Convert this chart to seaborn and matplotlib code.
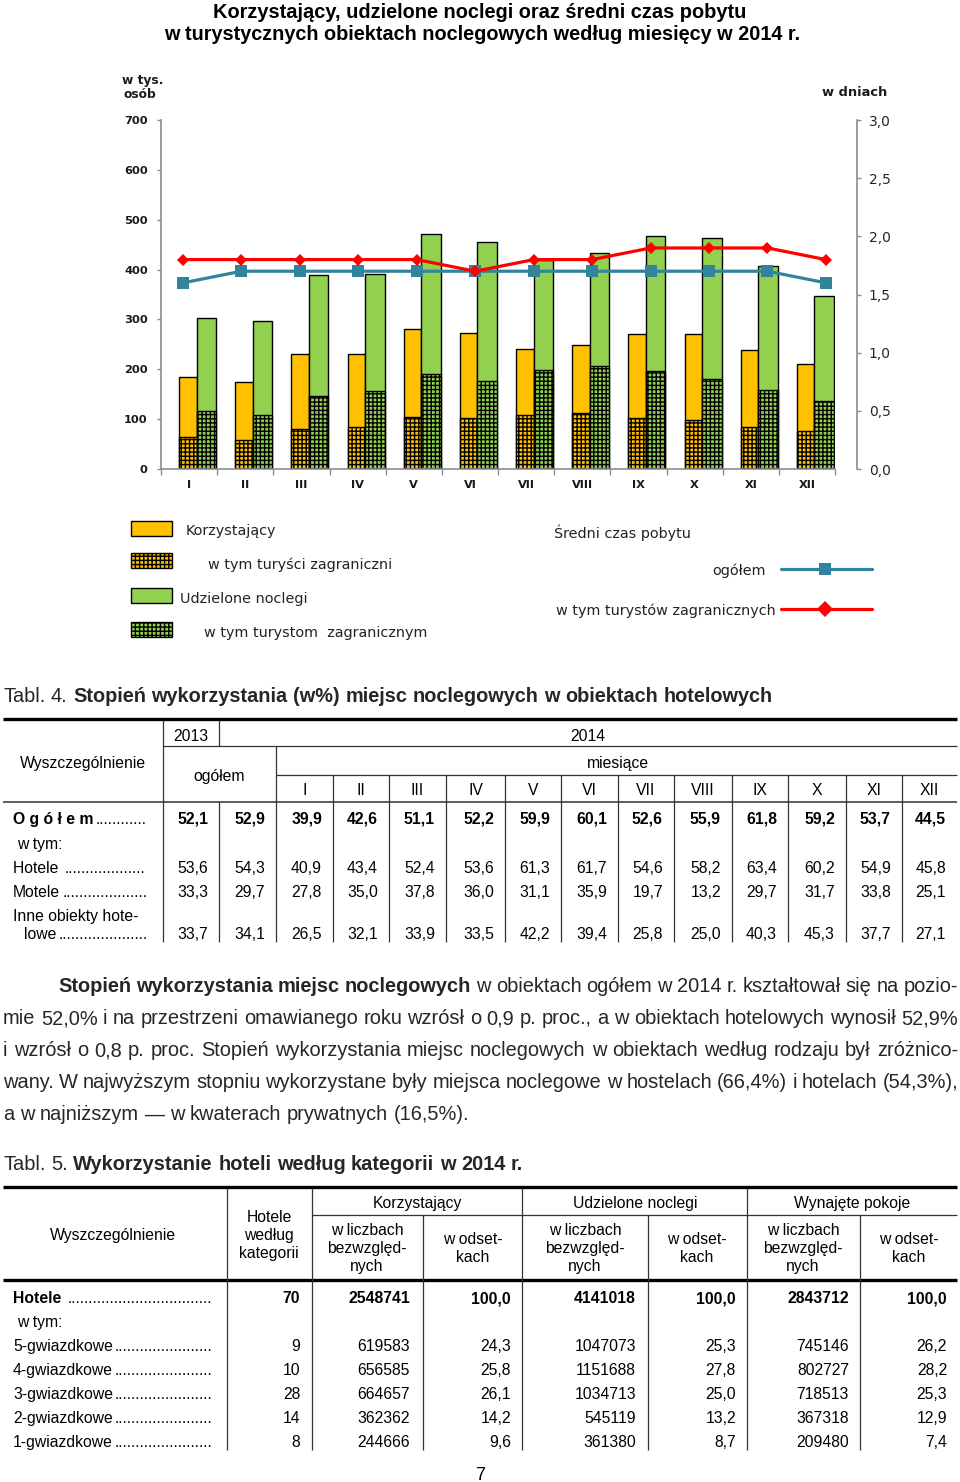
import matplotlib
matplotlib.use('Agg')
import matplotlib.pyplot as plt
import seaborn as sns
import numpy as np
import pandas as pd
from matplotlib.patches import Rectangle

# ---------------- data ----------------
months = ['I', 'II', 'III', 'IV', 'V', 'VI', 'VII', 'VIII', 'IX', 'X', 'XI', 'XII']
korzystajacy = [185, 175, 230, 230, 280, 273, 240, 248, 270, 270, 238, 211]
korz_zagr = [65, 58, 80, 85, 104, 103, 109, 113, 103, 98, 85, 77]
noclegi = [303, 296, 389, 392, 472, 455, 420, 433, 467, 464, 407, 346]
nocl_zagr = [117, 108, 146, 157, 190, 176, 198, 207, 197, 180, 159, 136]
pobyt_ogolem = [1.6, 1.7, 1.7, 1.7, 1.7, 1.7, 1.7, 1.7, 1.7, 1.7, 1.7, 1.6]
pobyt_zagr = [1.8, 1.8, 1.8, 1.8, 1.8, 1.7, 1.8, 1.8, 1.9, 1.9, 1.9, 1.8]
left_ticks = [0, 100, 200, 300, 400, 500, 600, 700]
right_ticks = [0.0, 0.5, 1.0, 1.5, 2.0, 2.5, 3.0]

t4_ogolem = [52.1, 52.9, 39.9, 42.6, 51.1, 52.2, 59.9, 60.1, 52.6, 55.9, 61.8, 59.2, 53.7, 44.5]
t4_hotele = [53.6, 54.3, 40.9, 43.4, 52.4, 53.6, 61.3, 61.7, 54.6, 58.2, 63.4, 60.2, 54.9, 45.8]
t4_motele = [33.3, 29.7, 27.8, 35.0, 37.8, 36.0, 31.1, 35.9, 19.7, 13.2, 29.7, 31.7, 33.8, 25.1]
t4_inne = [33.7, 34.1, 26.5, 32.1, 33.9, 33.5, 42.2, 39.4, 25.8, 25.0, 40.3, 45.3, 37.7, 27.1]

t5_rows = ['5-gwiazdkowe', '4-gwiazdkowe', '3-gwiazdkowe', '2-gwiazdkowe', '1-gwiazdkowe']
t5_hotele = [70, 9, 10, 28, 14, 8]
t5_korz_abs = [2548741, 619583, 656585, 664657, 362362, 244666]
t5_korz_pct = [100.0, 24.3, 25.8, 26.1, 14.2, 9.6]
t5_nocl_abs = [4141018, 1047073, 1151688, 1034713, 545119, 361380]
t5_nocl_pct = [100.0, 25.3, 27.8, 25.0, 13.2, 8.7]
t5_pok_abs = [2843712, 745146, 802727, 718513, 367318, 209480]
t5_pok_pct = [100.0, 26.2, 28.2, 25.3, 12.9, 7.4]

para_lines = [
    [("Stopień", "bold"), ("wykorzystania", "bold"), ("miejsc", "bold"), ("noclegowych", "bold")]
    + [(w, "normal") for w in "w obiektach ogółem w 2014 r. kształtował się na pozio-".split()],
    [(w, "normal") for w in "mie 52,0% i na przestrzeni omawianego roku wzrósł o 0,9 p. proc., a w obiektach hotelowych wynosił 52,9%".split()],
    [(w, "normal") for w in "i wzrósł o 0,8 p. proc. Stopień wykorzystania miejsc noclegowych w obiektach według rodzaju był zróżnico-".split()],
    [(w, "normal") for w in "wany. W najwyższym stopniu wykorzystane były miejsca noclegowe w hostelach (66,4%) i hotelach (54,3%),".split()],
    [(w, "normal") for w in "a w najniższym — w kwaterach prywatnych (16,5%).".split()],
]

# ---------------- style ----------------
sns.set_style('white')
plt.rcParams['font.family'] = ['DejaVu Sans']
plt.rcParams['hatch.linewidth'] = 1.0

YELLOW = '#FFC000'
GREEN = '#92D050'
BLUE = '#31849B'
RED = '#FF0000'
GREY = '#8c8c8c'
ARIAL = 'Liberation Sans'
CH = 'DejaVu Sans'

W, H = 960, 1482
fig = plt.figure(figsize=(9.6, 14.82), dpi=100)
axp = fig.add_axes([0, 0, 1, 1])
axp.set_xlim(0, W)
axp.set_ylim(H, 0)
axp.axis('off')
R = fig.canvas.get_renderer()


def fmt(v):
    return f"{v:.1f}".replace('.', ',')


def txt(x, y, s, size=11, w=None, ha='left', weight='normal', family=ARIAL, color='black'):
    t = axp.text(x, y, s, fontsize=size, ha=ha, va='center_baseline',
                 fontweight=weight, family=family, color=color)
    if w is not None:
        bw = t.get_window_extent(R).width
        t.set_fontsize(size * w / bw)
    return t


def width(s, size, weight='normal', family=ARIAL):
    t = axp.text(0, 0, s, fontsize=size, fontweight=weight, family=family)
    w = t.get_window_extent(R).width
    t.remove()
    return w


def fit_size(s, target, weight='normal', family=ARIAL, size=12):
    return size * target / width(s, size, weight, family)


def words_line(x0, x1, y, words, size, justify=True):
    ws = [width(wd, size, wt) for wd, wt in words]
    if justify and len(words) > 1:
        gap = (x1 - x0 - sum(ws)) / (len(words) - 1)
    else:
        gap = 0.278 * size * 100 / 72
    x = x0
    for (wd, wt), w in zip(words, ws):
        axp.text(x, y, wd, fontsize=size, fontweight=wt, family=ARIAL,
                 va='center_baseline', ha='left')
        x += w + gap


def runs_fit(x0, y, words, target):
    s0 = 12
    nat = sum(width(wd, s0, wt) for wd, wt in words) + (len(words) - 1) * 0.278 * s0 * 100 / 72
    s = s0 * target / nat
    words_line(x0, x0 + target, y, words, s, justify=False)


def hline(x0, x1, y, lw=0.9, color='#333333'):
    axp.plot([x0, x1], [y, y], color=color, lw=lw, solid_capstyle='butt')


def vline(x, y0, y1, lw=0.9, color='#333333'):
    axp.plot([x, x], [y0, y1], color=color, lw=lw, solid_capstyle='butt')


def dotted(x, y, label, xend, size, weight='normal'):
    t = txt(x, y, label, size, weight=weight)
    xr = t.get_window_extent(R).x1
    wdot = width('.' * 20, size) / 20
    n = int((xend - xr - 2) / wdot)
    txt(xr + 2, y, '.' * n, size)


# ---------------- chart title ----------------
txt(480, 11, "Korzystający, udzielone noclegi oraz średni czas pobytu", 12, w=530, ha='center', weight='bold')
txt(482.5, 33, "w turystycznych obiektach noclegowych według miesięcy w 2014 r.", 12, w=635, ha='center', weight='bold')

# ---------------- chart ----------------
x0px, x1px, ytop, ybot = 161, 835, 120, 469
rect = [x0px / W, 1 - ybot / H, (x1px - x0px) / W, (ybot - ytop) / H]
ax = fig.add_axes(rect)
ax.patch.set_visible(False)
idx = np.arange(len(months))

df_k = pd.DataFrame({'pos': idx - 0.022, 'all': korzystajacy, 'zagr': korz_zagr})
df_n = pd.DataFrame({'pos': idx + 0.307, 'all': noclegi, 'zagr': nocl_zagr})
common = dict(native_scale=True, saturation=1, edgecolor='black', linewidth=1.0, errorbar=None, ax=ax)
sns.barplot(data=df_k, x='pos', y='all', width=0.31, color=YELLOW, **common)
sns.barplot(data=df_k, x='pos', y='zagr', width=0.31, color=YELLOW, hatch='++++', **common)
sns.barplot(data=df_n, x='pos', y='all', width=0.347, color=GREEN, **common)
sns.barplot(data=df_n, x='pos', y='zagr', width=0.347, color=GREEN, hatch='++++', **common)

ax.set_xlim(-0.5, 11.5)
ax.set_ylim(0, 700)
ax.set_xlabel('')
ax.set_ylabel('')
ax.set_yticks(left_ticks)
ax.set_yticklabels([str(v) for v in left_ticks], fontweight='bold', fontsize=8.2, family=CH, color='#1a1a1a')
ax.set_xticks(np.arange(-0.5, 12, 1))
ax.set_xticklabels([])
ax.set_xticks(idx, minor=True)
ax.set_xticklabels(months, minor=True, fontweight='bold', fontsize=8.2, family=CH, color='#1a1a1a')
ax.tick_params(axis='x', which='minor', length=0, pad=8)
ax.tick_params(axis='x', which='major', length=4, width=1, color=GREY, direction='out', bottom=True)
ax.tick_params(axis='y', length=3, width=1, color=GREY, direction='out', pad=6.5, left=True)
for s in ['top', 'right']:
    ax.spines[s].set_visible(False)
for s in ['left', 'bottom']:
    ax.spines[s].set_color(GREY)
    ax.spines[s].set_linewidth(1.2)
ax.grid(False)

ax2 = fig.add_axes(rect)
ax2.patch.set_visible(False)
sns.lineplot(x=idx, y=pobyt_ogolem, ax=ax2, color=BLUE, linewidth=2.3, marker='s',
             markersize=8.6, markeredgewidth=0)
sns.lineplot(x=idx, y=pobyt_zagr, ax=ax2, color=RED, linewidth=2.3, marker='D',
             markersize=6.5, markeredgewidth=0)
ax2.set_xlim(-0.376, 11.155)
ax2.set_ylim(0, 3)
ax2.set_xticks([])
ax2.set_xlabel('')
ax2.set_ylabel('')
ax2.yaxis.tick_right()
ax2.set_yticks(right_ticks)
ax2.set_yticklabels([fmt(v) for v in right_ticks], fontweight='bold', fontsize=8.2, family=CH, color='#1a1a1a')
ax2.tick_params(axis='y', length=3, width=1, color=GREY, direction='out', pad=5.5, right=True)
for s in ['top', 'left', 'bottom']:
    ax2.spines[s].set_visible(False)
ax2.spines['right'].set_position(('outward', 15.8))
ax2.spines['right'].set_color(GREY)
ax2.spines['right'].set_linewidth(1.2)
ax2.grid(False)

txt(122, 79, "w tys.", 8.8, weight='bold', family=CH, color='#1a1a1a')
txt(123, 93, "osób", 8.8, weight='bold', family=CH, color='#1a1a1a')
txt(822, 91, "w dniach", 8, w=65, weight='bold', family=CH, color='#1a1a1a')

# ---------------- legend ----------------
leg_items = [("Korzystający", 186, 95, 529), ("w tym turyści zagraniczni", 208, 179, 563),
             ("Udzielone noclegi", 180, 128, 597), ("w tym turystom  zagranicznym", 204, 217, 631),
             ("Średni czas pobytu", 554, 136, 531), ("ogółem", 712, 57, 569),
             ("w tym turystów zagranicznych", 556, 215, 609)]
sizes = [fit_size(s, w, family=CH) for s, _, w, _ in leg_items]
lsz = float(np.median(sizes))
for s, x, w, y in leg_items:
    txt(x, y, s, lsz, family=CH, color='#222222')
for y0, col, hatch in [(521, YELLOW, None), (553, YELLOW, '++++'), (588, GREEN, None), (622, GREEN, '++++')]:
    axp.add_patch(Rectangle((131, y0), 41, 15, facecolor=col, edgecolor='black', lw=1,
                            hatch=hatch))
axp.plot([781, 872], [569, 569], color=BLUE, lw=2.3)
axp.plot([825], [569], marker='s', markersize=8.6, color=BLUE, markeredgewidth=0)
axp.plot([781, 872], [609, 609], color=RED, lw=2.3)
axp.plot([825], [609], marker='D', markersize=8, color=RED, markeredgewidth=0)

# ---------------- Tabl. 4 ----------------
runs_fit(3, 695, [("Tabl.", "normal"), ("4.", "normal")] +
         [(w, "bold") for w in "Stopień wykorzystania (w%) miejsc noclegowych w obiektach hotelowych".split()], 767)

TS = fit_size("Wyszczególnienie", 126)
XR = 957
hline(3, XR, 719, lw=2.4, color='black')
bounds4 = [219, 276, 333, 389, 446, 505, 561, 618, 674, 732, 788, 846, 902, XR]
vline(163, 720, 942)
vline(219, 720, 746)
hline(163, XR, 746)
vline(276, 746, 942)
hline(276, XR, 775)
for b in bounds4[2:-1]:
    vline(b, 775, 942)
vline(219, 802, 942)
hline(3, XR, 802, lw=1.1)

txt(191, 735, "2013", TS, ha='center')
txt(588, 735, "2014", TS, ha='center')
txt(83, 762, "Wyszczególnienie", TS, ha='center')
txt(219, 775, "ogółem", TS, ha='center')
txt(618, 762, "miesiące", TS, ha='center')
for i, m in enumerate(months):
    txt((bounds4[i + 1] + bounds4[i + 2]) / 2, 789, m, TS, ha='center')

t_og = txt(13, 818, "O g ó ł e m", TS, weight='bold')
xr_og = t_og.get_window_extent(R).x1
wdot = width('.' * 20, TS) / 20
txt(xr_og + 2, 818, '.' * int((148 - xr_og - 2) / wdot), TS)
txt(17, 843, "w tym:", TS)
dotted(13, 867, "Hotele ", 148, TS)
dotted(13, 891, "Motele", 148, TS)
txt(13, 915, "Inne obiekty hote-", TS)
dotted(24, 933, "lowe", 148, TS)

for rowvals, y, wt in [(t4_ogolem, 818, 'bold'), (t4_hotele, 867, 'normal'),
                       (t4_motele, 891, 'normal'), (t4_inne, 933, 'normal')]:
    for j, v in enumerate(rowvals):
        right = 208 if j == 0 else bounds4[j] - 11
        txt(right, y, fmt(v), TS, ha='right', weight=wt)

# ---------------- paragraph ----------------
PS = 12 * 955 / (sum(width(wd, 12, wt) for wd, wt in para_lines[1]) +
                 (len(para_lines[1]) - 1) * 0.278 * 12 * 100 / 72)
for k, (words, y) in enumerate(zip(para_lines, [985, 1017, 1049, 1081, 1113])):
    xs = 58 if k == 0 else 3
    words_line(xs, 958, y, words, PS, justify=(k < 4))

# ---------------- Tabl. 5 ----------------
runs_fit(3, 1163, [("Tabl.", "normal"), ("5.", "normal")] +
         [(w, "bold") for w in "Wykorzystanie hoteli według kategorii w 2014 r.".split()], 518)

hline(3, XR, 1187, lw=2.4, color='black')
hline(3, XR, 1280, lw=2.4, color='black')
for x in [227, 312, 522, 747]:
    vline(x, 1188, 1450)
hline(312, XR, 1215)
for x in [423, 648, 860]:
    vline(x, 1215, 1450)

txt(113, 1234, "Wyszczególnienie", TS, ha='center')
for y, s in zip([1216, 1234, 1252], ["Hotele", "według", "kategorii"]):
    txt(269, y, s, TS, ha='center')
for cx, s in [(417, "Korzystający"), (635, "Udzielone noclegi"), (852, "Wynajęte pokoje")]:
    txt(cx, 1202, s, TS, ha='center')
for cx in [367, 585, 803]:
    for y, s in zip([1229, 1247, 1265], ["w liczbach", "bezwzględ-", "nych"]):
        txt(cx, y, s, TS, ha='center')
for cx in [473, 697, 909]:
    for y, s in zip([1238, 1256], ["w odset-", "kach"]):
        txt(cx, y, s, TS, ha='center')

t5_right = [300, 410, 511, 636, 736, 849, 947]
row_ys = [1297, 1345, 1369, 1393, 1417, 1441]
dotted(13, 1297, "Hotele ", 215, TS, weight='bold')
txt(17, 1321, "w tym:", TS)
for name, y in zip(t5_rows, row_ys[1:]):
    dotted(13, y, name, 215, TS)
cols5 = [t5_hotele, t5_korz_abs, t5_korz_pct, t5_nocl_abs, t5_nocl_pct, t5_pok_abs, t5_pok_pct]
for c, (vals, xr) in enumerate(zip(cols5, t5_right)):
    for r, (v, y) in enumerate(zip(vals, row_ys)):
        s = fmt(v) if c in (2, 4, 6) else str(v)
        txt(xr, y, s, TS, ha='right', weight='bold' if r == 0 else 'normal')

txt(480, 1473, "7", TS * 1.15, ha='center')

fig.savefig('out.png', dpi=100)
